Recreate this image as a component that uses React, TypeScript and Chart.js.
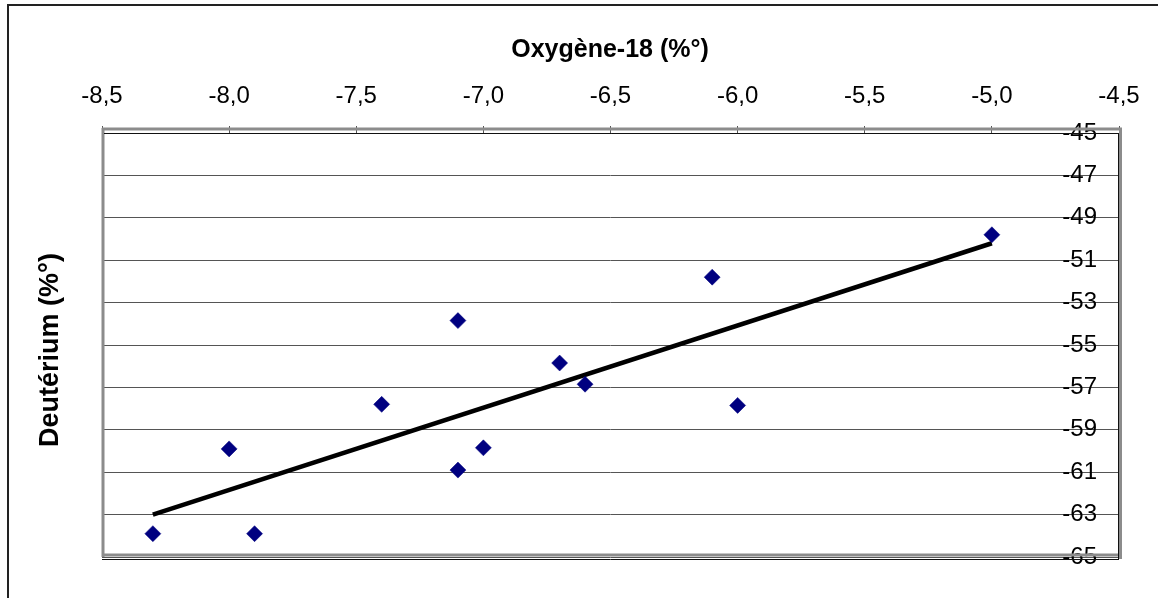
import React, { useEffect, useRef } from 'react';
import { Chart, registerables } from 'chart.js';

Chart.register(...registerables);

// ---- Data ----
const oxygen18 = [-8.3, -8.0, -7.9, -7.4, -7.1, -7.1, -7.0, -6.7, -6.6, -6.1, -6.0, -5.0];
const deuterium = [-63.9, -59.9, -63.9, -57.8, -53.85, -60.9, -59.85, -55.85, -56.85, -51.8, -57.85, -49.8];
const trendX = [-8.3, -5.0];
const trendY = [-63.0, -50.2];
const xTitle = 'Oxygène-18 (%°)';
const yTitle = 'Deutérium (%°)';
const xMin = -8.5;
const xMax = -4.5;
const xStep = 0.5;
const yMin = -65;
const yMax = -45;
const yStep = 2;

const FONT = 'Arial, "Liberation Sans", sans-serif';

export default function App() {
  const ref = useRef<HTMLCanvasElement>(null);

  useEffect(() => {
    if (!ref.current) return;

    const decor = {
      id: 'decor',
      beforeDraw(chart: any) {
        const { ctx } = chart;
        ctx.save();
        ctx.fillStyle = '#ffffff';
        ctx.fillRect(0, 0, chart.width, chart.height);
        ctx.fillStyle = '#222222';
        ctx.fillRect(7, 4, 2, chart.height);
        ctx.fillRect(7, 4, chart.width, 2);
        ctx.restore();
      },
      beforeDatasetsDraw(chart: any) {
        const { ctx, chartArea: a } = chart;
        ctx.save();
        // grey plot-area frame
        ctx.strokeStyle = '#8c8c8c';
        ctx.lineWidth = 3;
        ctx.beginPath();
        ctx.moveTo(a.left, a.top - 4);
        ctx.lineTo(a.right + 3, a.top - 4);
        ctx.moveTo(a.left + 1, a.top - 5);
        ctx.lineTo(a.left + 1, a.bottom);
        ctx.moveTo(a.right + 1.5, a.top - 5);
        ctx.lineTo(a.right + 1.5, a.bottom + 2);
        ctx.moveTo(a.left, a.bottom - 2);
        ctx.lineTo(a.right + 3, a.bottom - 2);
        ctx.stroke();
        // black axis lines
        ctx.strokeStyle = '#111111';
        ctx.lineWidth = 1;
        ctx.beginPath();
        ctx.moveTo(a.left + 2, a.top + 0.5);
        ctx.lineTo(a.right, a.top + 0.5);
        ctx.moveTo(a.right - 0.5, a.top);
        ctx.lineTo(a.right - 0.5, a.bottom + 2.5);
        ctx.moveTo(a.left, a.bottom + 2.5);
        ctx.lineTo(a.right, a.bottom + 2.5);
        ctx.stroke();
        ctx.restore();
      },
      afterDraw(chart: any) {
        const { ctx } = chart;
        ctx.save();
        ctx.fillStyle = '#000000';
        ctx.textAlign = 'center';
        ctx.textBaseline = 'middle';
        ctx.font = `bold 25px ${FONT}`;
        ctx.fillText(xTitle, 610, 50);
        ctx.translate(51, 350);
        ctx.rotate(-Math.PI / 2);
        ctx.font = `bold 27px ${FONT}`;
        ctx.fillText(yTitle, 0, 0);
        ctx.restore();
      },
    };

    const chart = new Chart(ref.current, {
      type: 'scatter',
      data: {
        datasets: [
          {
            label: 'Deutérium',
            data: oxygen18.map((x, i) => ({ x, y: deuterium[i] })),
            pointStyle: 'rectRot',
            pointRadius: 8,
            pointHoverRadius: 8,
            backgroundColor: '#000080',
            borderColor: '#000080',
            borderWidth: 0.5,
            showLine: false,
          },
          {
            label: 'Tendance',
            data: trendX.map((x, i) => ({ x, y: trendY[i] })),
            showLine: true,
            borderColor: '#000000',
            borderWidth: 4.5,
            pointRadius: 0,
            pointHoverRadius: 0,
            fill: false,
          },
        ],
      },
      options: {
        responsive: false,
        animation: false,
        devicePixelRatio: 1,
        layout: { padding: { left: 102, top: 60, right: 0, bottom: 41 } },
        plugins: {
          legend: { display: false },
          tooltip: { enabled: false },
          title: { display: false },
        },
        scales: {
          x: {
            type: 'linear',
            position: 'top',
            min: xMin,
            max: xMax,
            afterFit(scale: any) {
              scale.height = 73;
            },
            ticks: {
              stepSize: xStep,
              color: '#000000',
              font: { family: FONT, size: 24 },
              padding: 15,
              maxRotation: 0,
              autoSkip: false,
              callback: (v: any) => Number(v).toFixed(1).replace('.', ','),
            },
            grid: {
              drawOnChartArea: false,
              drawTicks: true,
              tickLength: 7,
              color: '#555555',
            },
            border: { display: false },
          },
          y: {
            type: 'linear',
            position: 'right',
            min: yMin,
            max: yMax,
            afterFit(scale: any) {
              scale.width = 39;
            },
            ticks: {
              stepSize: yStep,
              mirror: true,
              padding: -22,
              color: '#000000',
              font: { family: FONT, size: 24 },
              autoSkip: false,
              callback: (v: any) => String(Math.round(Number(v))),
            },
            grid: {
              drawOnChartArea: true,
              drawTicks: false,
              color: '#555555',
              lineWidth: 1,
            },
            border: { display: false },
          },
        },
      },
      plugins: [decor],
    });

    return () => chart.destroy();
  }, []);

  return (
    <div style={{ position: 'absolute', left: 0, top: 0, width: 1158, height: 598 }}>
      <canvas ref={ref} width={1158} height={598} style={{ width: 1158, height: 598 }} />
    </div>
  );
}
